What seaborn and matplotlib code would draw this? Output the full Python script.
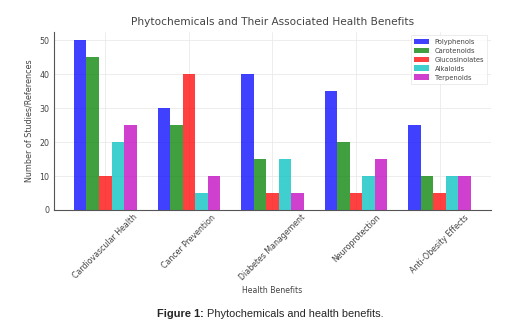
import pandas as pd
import seaborn as sns
import matplotlib.pyplot as plt

benefits = ['Cardiovascular Health', 'Cancer Prevention', 'Diabetes Management',
            'Neuroprotection', 'Anti-Obesity Effects']
compounds = ['Polyphenols', 'Carotenoids', 'Glucosinolates', 'Alkaloids', 'Terpenoids']
polyphenols = [50, 30, 40, 35, 25]
carotenoids = [45, 25, 15, 20, 10]
glucosinolates = [10, 40, 5, 5, 5]
alkaloids = [20, 5, 15, 10, 10]
terpenoids = [25, 10, 5, 15, 10]
colours = ['blue', 'green', 'red', 'c', 'm']

values = [polyphenols, carotenoids, glucosinolates, alkaloids, terpenoids]
rows = []
for comp, vals in zip(compounds, values):
    for b, v in zip(benefits, vals):
        rows.append({'benefit': b, 'compound': comp, 'count': v})
df = pd.DataFrame(rows)

sns.set_style('whitegrid')
plt.rcParams['font.family'] = ['DejaVu Sans']

fig = plt.figure(figsize=(5.25, 3.26), dpi=100)
ax = fig.add_axes([0.103, 0.356, 0.832, 0.546])

sns.barplot(data=df, x='benefit', y='count', hue='compound', hue_order=compounds,
            order=benefits, palette=colours, saturation=1, width=0.75, alpha=0.75,
            linewidth=0, ax=ax)

ax.set_ylim(0, 52.5)
ax.set_xlim(-0.6125, 4.6125)
ax.set_yticks([0, 10, 20, 30, 40, 50])
ax.grid(True, color='#e6e6e6', linewidth=0.5)
ax.set_axisbelow(True)
for s in ['top', 'right']:
    ax.spines[s].set_visible(False)
for s in ['left', 'bottom']:
    ax.spines[s].set_color('#555555')
    ax.spines[s].set_linewidth(0.8)
ax.tick_params(axis='both', labelsize=5.7, colors='#444444', length=0, pad=2)
ax.tick_params(axis='y', length=2, width=0.6, pad=1.5)
plt.setp(ax.get_xticklabels(), rotation=45, ha='center')

ax.set_title('Phytochemicals and Their Associated Health Benefits', fontsize=7.6,
             color='#444444', pad=5)
ax.set_xlabel('Health Benefits', fontsize=5.6, color='#444444', labelpad=3)
ax.set_ylabel('Number of Studies/References', fontsize=5.8, color='#444444', labelpad=4)

leg = ax.legend(loc='upper right', fontsize=4.9, frameon=True, handlelength=2.2,
                handleheight=0.9, labelspacing=0.4, borderpad=0.5, fancybox=False)
leg.get_frame().set_edgecolor('#dddddd')
leg.get_frame().set_linewidth(0.5)
for t in leg.get_texts():
    t.set_color('#444444')

# caption: bold lead-in followed by plain text
t1 = fig.text(157 / 525, 1 - 317 / 326, 'Figure 1: ', fontsize=7.95, fontweight='bold',
              family='Liberation Sans', ha='left', va='baseline')
fig.canvas.draw()
bb = t1.get_window_extent(renderer=fig.canvas.get_renderer())
fig.text(bb.x1 / fig.bbox.width, 1 - 317 / 326, 'Phytochemicals and health benefits.',
         fontsize=7.95, family='Liberation Sans', ha='left', va='baseline')

fig.savefig('out.png', dpi=100)
